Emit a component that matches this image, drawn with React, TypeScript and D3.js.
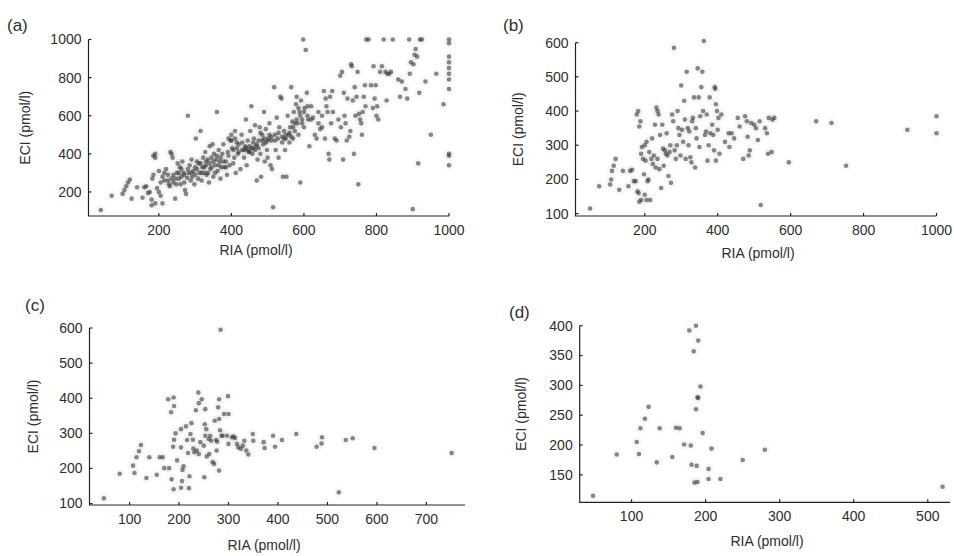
import React from "react";
import * as d3 from "d3";

type P = [number, number];

// Panel (a): all samples
const pointsA: P[] = [
  [40,105],[70,180],[100,190],[105,210],[110,230],[115,250],[120,265],[125,165],[140,225],[155,170],[160,225],[165,230],[170,195],[175,200],[180,160],[180,130],[182,270],[185,290],[185,390],[190,400],[190,380],[190,140],[195,220],[200,310],[200,200],[205,180],[205,250],[210,140],[210,280],[215,300],[220,320],[225,260],[228,240],[230,230],[232,410],[235,400],[238,380],[240,290],[240,250],[245,270],[245,165],[250,300],[252,350],[255,270],[258,330],[260,240],[262,280],[265,360],[268,300],[270,250],[272,210],[275,190],[278,275],[280,600],[282,300],[285,340],[288,260],[290,370],[292,280],[295,310],[298,240],[300,330],[302,480],[305,360],[308,270],[310,350],[312,300],[315,520],[318,260],[320,330],[322,380],[325,300],[328,410],[330,340],[332,290],[335,370],[338,250],[340,440],[342,320],[345,380],[348,450],[350,280],[352,400],[355,340],[358,370],[360,620],[362,310],[365,420],[368,360],[370,270],[372,330],[375,400],[378,450],[380,330],[385,360],[388,290],[390,410],[392,480],[395,340],[398,470],[400,500],[402,430],[405,350],[408,380],[410,520],[412,300],[415,460],[418,400],[420,450],[425,320],[428,500],[430,420],[435,380],[438,440],[440,580],[442,340],[445,470],[448,410],[450,440],[452,520],[455,650],[458,400],[460,430],[462,480],[465,550],[468,440],[470,260],[472,370],[475,470],[478,540],[480,400],[482,280],[485,500],[488,450],[490,620],[492,360],[495,530],[498,420],[500,380],[502,480],[505,560],[508,340],[510,470],[512,320],[515,120],[518,750],[520,500],[522,420],[525,590],[528,480],[530,380],[532,540],[535,700],[538,690],[540,460],[542,280],[545,520],[548,420],[550,480],[552,280],[555,600],[558,500],[560,460],[562,540],[565,750],[568,570],[570,480],[572,620],[575,520],[578,660],[580,700],[582,560],[585,500],[588,620],[590,250],[592,680],[595,580],[598,1000],[600,540],[602,640],[605,945],[608,720],[610,600],[612,580],[615,440],[620,650],[625,590],[630,500],[635,480],[640,620],[645,530],[650,600],[655,730],[658,480],[660,690],[662,650],[665,620],[668,400],[670,370],[672,700],[675,560],[678,730],[680,620],[685,480],[690,470],[695,580],[700,810],[702,540],[705,830],[708,370],[710,720],[712,600],[715,560],[718,470],[720,690],[725,490],[728,520],[730,870],[732,860],[735,680],[738,400],[740,750],[742,600],[745,700],[748,830],[750,240],[752,610],[755,580],[758,560],[760,500],[762,620],[765,700],[768,760],[770,650],[772,1000],[778,1000],[785,760],[790,640],[792,860],[795,690],[798,760],[800,600],[802,650],[805,580],[810,830],[815,860],[820,1000],[825,830],[828,680],[830,820],[835,820],[840,830],[845,1000],[860,790],[865,700],[870,780],[880,740],[885,690],[890,1000],[892,820],[895,880],[900,110],[902,870],[905,920],[908,950],[912,910],[915,350],[918,720],[920,1000],[925,1000],[935,780],[950,500],[965,820],[985,660],[1000,1000],[1000,980],[1000,910],[1000,880],[1000,850],[1000,820],[1000,790],[1000,740],[1000,400],[1000,390],[1000,340],
  [215,260],[225,290],[235,270],[248,240],[255,300],[262,320],[270,290],[280,320],[290,300],[300,290],[305,320],[315,350],[318,300],[325,330],[330,360],[335,300],[340,350],[345,330],[350,360],[355,300],[360,390],[365,340],[370,380],[378,360],[385,330],[392,390],[400,470],[405,420],[410,480],[415,430],[420,410],[430,460],[435,420],[440,430],[445,420],[450,410],[455,430],[460,460],[465,420],[470,450],[475,430],[480,510],[485,470],[490,480],[495,460],[500,470],[505,500],[510,490],[520,470],[530,510],[540,490],[545,480],[550,500],[560,510],[565,490],[570,540],[575,560],[580,580],[585,640],[590,600],[595,560],[600,620],[610,650],[620,580],[640,560],[650,540]
];

// Panel (b)
const pointsB: P[] = [
  [50,115],[75,180],[105,185],[108,200],[110,225],[115,240],[120,260],[130,170],[140,225],[155,180],[160,225],[165,228],[170,195],[175,195],[178,390],[180,165],[182,400],[183,160],[185,355],[185,135],[188,370],[190,275],[190,140],[192,295],[195,260],[198,215],[200,300],[200,155],[202,255],[205,310],[205,140],[208,195],[210,200],[212,280],[215,140],[218,260],[220,320],[222,245],[225,270],[228,360],[230,235],[232,410],[235,400],[235,260],[238,390],[240,230],[242,330],[245,175],[248,360],[250,290],[252,240],[255,285],[258,275],[260,335],[262,270],[265,210],[268,280],[270,300],[272,190],[275,390],[278,370],[280,585],[282,285],[285,260],[288,300],[290,400],[292,350],[295,330],[298,270],[300,475],[302,345],[305,310],[308,430],[310,375],[312,260],[315,515],[318,350],[320,300],[322,340],[325,265],[328,250],[330,370],[332,380],[335,440],[338,235],[340,350],[342,320],[345,525],[348,440],[350,295],[352,385],[355,470],[358,515],[360,400],[362,605],[365,330],[368,340],[370,390],[372,255],[375,300],[378,440],[380,335],[385,360],[388,330],[390,285],[392,470],[393,465],[395,420],[395,255],[398,400],[400,345],[402,380],[405,275],[410,390],[420,310],[430,335],[432,295],[438,335],[445,320],[455,380],[460,355],[470,260],[475,385],[480,370],[482,325],[485,270],[488,285],[492,365],[500,360],[505,350],[510,315],[515,370],[518,125],[530,350],[535,335],[538,275],[540,380],[548,280],[550,375],[555,380],[595,250],[670,370],[712,365],[752,240],[920,345],[1000,385],[1000,335]
];

// Panel (c)
const pointsC: P[] = [
  [48,115],[80,185],[107,208],[110,187],[114,232],[119,249],[123,267],[134,173],[140,232],[155,182],[161,232],[167,232],[170,201],[180,201],[178,397],[185,169],[189,402],[184,360],[189,141],[190,378],[190,282],[193,300],[188,262],[196,223],[204,260],[204,312],[206,164],[204,145],[207,196],[209,206],[214,320],[216,281],[218,244],[220,144],[221,178],[225,329],[223,298],[228,282],[229,257],[231,246],[234,366],[236,251],[239,416],[240,386],[240,241],[243,275],[246,397],[250,265],[251,175],[252,326],[253,369],[253,293],[255,312],[256,234],[260,284],[261,241],[263,293],[265,279],[268,218],[271,213],[272,336],[275,281],[276,251],[277,276],[279,374],[281,397],[281,341],[281,194],[283,309],[284,595],[286,293],[288,293],[291,355],[297,293],[300,355],[299,406],[300,270],[307,289],[310,291],[313,287],[317,270],[320,260],[325,256],[329,265],[332,279],[336,251],[340,240],[349,298],[350,279],[371,275],[373,258],[390,293],[394,262],[408,281],[437,298],[478,262],[488,271],[489,289],[537,281],[551,286],[523,132],[595,258],[751,244]
];

// Panel (d)
const pointsD: P[] = [
  [48,115],[80,184],[107,205],[110,185],[112,228],[118,244],[123,264],[134,171],[138,228],[155,180],[160,229],[165,228],[171,201],[178,392],[180,199],[181,167],[184,357],[185,137],[187,400],[187,260],[188,165],[189,138],[189,280],[190,375],[190,279],[193,298],[196,220],[204,160],[204,143],[208,194],[220,143],[250,175],[280,192],[520,130]
];

const ticksAX = [200, 400, 600, 800, 1000];
const ticksAY = [200, 400, 600, 800, 1000];
const ticksBX = [200, 400, 600, 800, 1000];
const ticksBY = [100, 200, 300, 400, 500, 600];
const ticksCX = [100, 200, 300, 400, 500, 600, 700];
const ticksCY = [100, 200, 300, 400, 500, 600];
const ticksDX = [100, 200, 300, 400, 500];
const ticksDY = [150, 200, 250, 300, 350, 400];

const xTitle = "RIA (pmol/l)";
const yTitle = "ECI (pmol/l)";

interface PanelSpec {
  tag: string;
  pts: P[];
  xDom: [number, number];
  yDom: [number, number];
  xR: [number, number];
  yR: [number, number];
  xt: number[];
  yt: number[];
  tagPos: [number, number];
  xTitlePos: [number, number];
  yTitleX: number;
}

const panels: PanelSpec[] = [
  { tag: "(a)", pts: pointsA, xDom: [6, 1000], yDom: [74, 1000], xR: [88.5, 449], yR: [216, 39.5], xt: ticksAX, yt: ticksAY, tagPos: [7, 31], xTitlePos: [256, 255], yTitleX: 25 },
  { tag: "(b)", pts: pointsB, xDom: [10, 1000], yDom: [93, 600], xR: [575.5, 936.5], yR: [216, 42.7], xt: ticksBX, yt: ticksBY, tagPos: [503, 31], xTitlePos: [758, 258], yTitleX: 518 },
  { tag: "(c)", pts: pointsC, xDom: [19, 778], yDom: [96, 600], xR: [89.5, 465], yR: [505, 328], xt: ticksCX, yt: ticksCY, tagPos: [25, 311], xTitlePos: [264, 550], yTitleX: 33 },
  { tag: "(d)", pts: pointsD, xDom: [30, 530], yDom: [104, 400], xR: [579.7, 950], yR: [502.3, 325.7], xt: ticksDX, yt: ticksDY, tagPos: [509, 318], xTitlePos: [767, 546], yTitleX: 521 },
];

const FONT = "'Liberation Sans', Arial, sans-serif";
const TXT = "#2e2e2e";

function Panel({ p }: { p: PanelSpec }) {
  const x = d3.scaleLinear().domain(p.xDom).range(p.xR);
  const y = d3.scaleLinear().domain(p.yDom).range(p.yR);
  const x0 = p.xR[0], x1 = p.xR[1], y0 = p.yR[0], y1 = p.yR[1];
  const tl = 3;
  return (
    <g>
      <text x={p.tagPos[0]} y={p.tagPos[1]} fontSize={17} fill={TXT} fontFamily={FONT}>{p.tag}</text>
      {p.pts.map((d, i) => (
        <circle key={"h" + i} cx={x(d[0])} cy={y(d[1])} r={5} fill="#999" opacity={0.07} />
      ))}
      {p.pts.map((d, i) => (
        <circle key={i} cx={x(d[0])} cy={y(d[1])} r={2.3} fill="#333" opacity={0.58} />
      ))}
      <path d={`M${x0},${y1}V${y0}H${x1}`} fill="none" stroke="#222" strokeWidth={1.2} />
      {p.yt.map((t) => (
        <g key={"y" + t}>
          <line x1={x0} x2={x0 + tl} y1={y(t)} y2={y(t)} stroke="#222" strokeWidth={1.2} />
          <text x={x0 - 7} y={y(t)} dy="0.35em" textAnchor="end" fontSize={14} fill={TXT} fontFamily={FONT}>{t}</text>
        </g>
      ))}
      {p.xt.map((t) => (
        <g key={"x" + t}>
          <line x1={x(t)} x2={x(t)} y1={y0} y2={y0 - tl} stroke="#222" strokeWidth={1.2} />
          <text x={x(t)} y={y0 + 19} textAnchor="middle" fontSize={14} fill={TXT} fontFamily={FONT}>{t}</text>
        </g>
      ))}
      <text x={p.xTitlePos[0]} y={p.xTitlePos[1]} textAnchor="middle" fontSize={14} fill={TXT} fontFamily={FONT}>{xTitle}</text>
      <text transform={`translate(${p.yTitleX},${(y0 + y1) / 2}) rotate(-90)`} textAnchor="middle" dy="0.35em" fontSize={14} fill={TXT} fontFamily={FONT}>{yTitle}</text>
    </g>
  );
}

export default function App() {
  return (
    <svg width={954} height={556} style={{ position: "absolute", left: 0, top: 0, background: "#fff" }}>
      <rect width={954} height={556} fill="#fff" />
      {panels.map((p) => (
        <Panel key={p.tag} p={p} />
      ))}
    </svg>
  );
}
